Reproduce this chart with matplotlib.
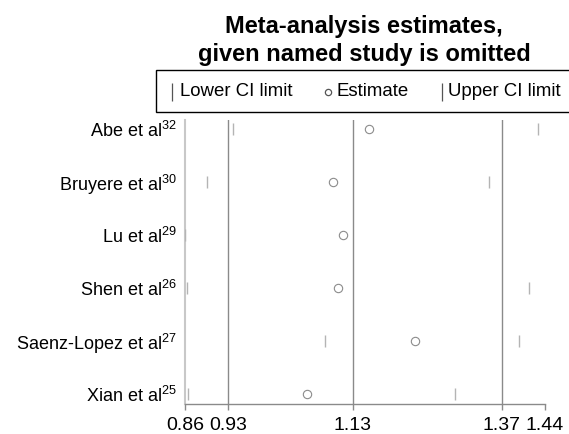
import matplotlib
matplotlib.use("Agg")
import matplotlib.pyplot as plt
from matplotlib.lines import Line2D
from matplotlib.patches import Rectangle

plt.rcParams['font.family'] = ['Liberation Sans', 'DejaVu Sans']
plt.rcParams['mathtext.fontset'] = 'custom'
plt.rcParams['mathtext.rm'] = 'Liberation Sans'
plt.rcParams['mathtext.it'] = 'Liberation Sans'
plt.rcParams['mathtext.bf'] = 'Liberation Sans:bold'

studies = ["Abe et al", "Bruyere et al", "Lu et al", "Shen et al", "Saenz-Lopez et al", "Xian et al"]
refs = ["32", "30", "29", "26", "27", "25"]
lower = [0.938, 0.895, 0.860, 0.864, 1.086, 0.865]
estimate = [1.157, 1.099, 1.114, 1.106, 1.231, 1.057]
upper = [1.429, 1.350, 1.444, 1.415, 1.398, 1.295]
ref_lines = [0.93, 1.13, 1.37]
xticks = [0.86, 0.93, 1.13, 1.37, 1.44]
xtick_labels = ["0.86", "0.93", "1.13", "1.37", "1.44"]

W, H = 569, 434
fig = plt.figure(figsize=(W / 100, H / 100), dpi=100)
ax = fig.add_axes([185 / W, 1 - 404 / H, 360 / W, 284 / H])

n = len(studies)
ypos = list(range(n, 0, -1))

for v in ref_lines:
    ax.axvline(v, color='#8a8a8a', lw=1.0, zorder=1)

ax.plot(lower, ypos, linestyle='none', marker='|', markersize=8,
        color='#b4b4b4', mew=1.0, zorder=3)
ax.plot(upper, ypos, linestyle='none', marker='|', markersize=8,
        color='#b4b4b4', mew=1.0, zorder=3)
ax.plot(estimate, ypos, linestyle='none', marker='o', markersize=6,
        markerfacecolor='none', markeredgecolor='#8c8c8c', mew=0.8, zorder=3)

ax.set_xlim(xticks[0], xticks[-1])
ax.set_ylim(0.81, n + 0.17)
ax.set_xticks(xticks)
ax.set_xticklabels(xtick_labels, fontsize=14)
ax.set_yticks(ypos)
ax.set_yticklabels([f"{s}$^{{{r}}}$" for s, r in zip(studies, refs)], fontsize=13)
ax.tick_params(axis='y', length=0, pad=6)
ax.tick_params(axis='x', length=4.5, width=1.0, color='#8a8a8a', pad=5)

for side in ['top', 'right']:
    ax.spines[side].set_visible(False)
ax.spines['left'].set_color('#c8c8c8')
ax.spines['left'].set_linewidth(1.5)
ax.spines['bottom'].set_color('#8a8a8a')
ax.spines['bottom'].set_linewidth(1.0)

# Title
fig.text(364 / W, 1 - 33 / H, "Meta-analysis estimates,", ha='center', va='baseline',
         fontsize=17, fontweight='bold')
fig.text(364 / W, 1 - 61 / H, "given named study is omitted", ha='center', va='baseline',
         fontsize=17, fontweight='bold')

# Legend box
rect = Rectangle((156 / W, 1 - 112 / H), 430 / W, 42 / H, transform=fig.transFigure,
                 facecolor='white', edgecolor='black', lw=1.0, clip_on=False)
fig.add_artist(rect)
ly = 1 - 92 / H
fig.add_artist(Line2D([172 / W], [ly], transform=fig.transFigure, marker='|',
                      markersize=13, color='#555555', mew=0.9, linestyle='none'))
fig.text(180 / W, ly, "Lower CI limit", ha='left', va='center', fontsize=13.4)
fig.add_artist(Line2D([328 / W], [ly], transform=fig.transFigure, marker='o',
                      markersize=4.5, markerfacecolor='none', markeredgecolor='#555555',
                      mew=0.9, linestyle='none'))
fig.text(337 / W, ly, "Estimate", ha='left', va='center', fontsize=13.4)
fig.add_artist(Line2D([442 / W], [ly], transform=fig.transFigure, marker='|',
                      markersize=13, color='#555555', mew=0.9, linestyle='none'))
fig.text(448 / W, ly, "Upper CI limit", ha='left', va='center', fontsize=13.4)

fig.savefig("out.png", dpi=100)
